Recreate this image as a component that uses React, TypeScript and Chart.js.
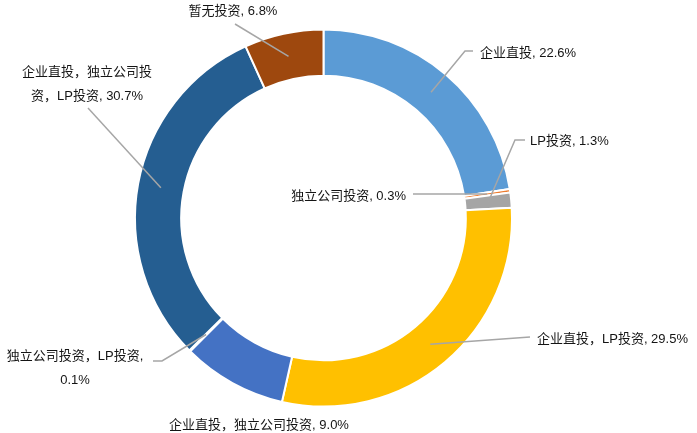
import React, { useEffect, useRef } from "react";
import { Chart, registerables } from "chart.js";

Chart.register(...registerables);

const categories = [
  "企业直投",
  "独立公司投资",
  "LP投资",
  "企业直投，LP投资",
  "企业直投，独立公司投资",
  "独立公司投资，LP投资",
  "企业直投，独立公司投资，LP投资",
  "暂无投资",
];
const values = [22.6, 0.3, 1.3, 29.5, 9.0, 0.1, 30.7, 6.8];
const colors = ["#5B9BD5", "#ED7D31", "#A5A5A5", "#FFC000", "#4472C4", "#70AD47", "#255E91", "#9E480E"];

// label layout: text lines, anchor offsets (px from center), alignment, leader path points
type LabelCfg = {
  lines: string[];
  tx: number;
  ty: number;
  align: CanvasTextAlign;
  path: [number, number][];
};
const labelLayout: LabelCfg[] = [
  { lines: ["企业直投, 22.6%"], tx: 156.5, ty: -166, align: "left", path: [[141.5, -167], [149.5, -167]] },
  { lines: ["独立公司投资, 0.3%"], tx: 82.5, ty: -23, align: "right", path: [[89.5, -24]] },
  { lines: ["LP投资, 1.3%"], tx: 206.5, ty: -78, align: "left", path: [[191.5, -78], [201.5, -78]] },
  { lines: ["企业直投，LP投资, 29.5%"], tx: 213.5, ty: 120, align: "left", path: [[206.5, 119]] },
  { lines: ["企业直投，独立公司投资, 9.0%"], tx: -64.5, ty: 206, align: "center", path: [] },
  { lines: ["独立公司投资，LP投资,", "0.1%"], tx: -248.5, ty: 137, align: "center", path: [[-161.5, 143], [-170.5, 143]] },
  { lines: ["企业直投，独立公司投", "资，LP投资, 30.7%"], tx: -236.5, ty: -147, align: "center", path: [[-235.5, -110]] },
  { lines: ["暂无投资, 6.8%"], tx: -90.5, ty: -208, align: "center", path: [[-88.5, -194]] },
];

const FONT = '13px "Liberation Sans", Arial, "Noto Sans CJK SC", sans-serif';

const labelPlugin = {
  id: "leaderLabels",
  afterDatasetsDraw(chart: any) {
    const meta = chart.getDatasetMeta(0);
    const ctx = chart.ctx as CanvasRenderingContext2D;
    ctx.save();
    meta.data.forEach((arc: any, i: number) => {
      const cfg = labelLayout[i];
      if (!cfg) return;
      const cx = arc.x;
      const cy = arc.y;
      if (cfg.path.length) {
        const start = arc.tooltipPosition();
        ctx.beginPath();
        ctx.strokeStyle = "#A6A6A6";
        ctx.lineWidth = 1.5;
        ctx.moveTo(start.x, start.y);
        cfg.path.forEach(([dx, dy]) => ctx.lineTo(cx + dx, cy + dy));
        ctx.stroke();
      }
      ctx.font = FONT;
      ctx.fillStyle = "#141414";
      ctx.textAlign = cfg.align;
      ctx.textBaseline = "middle";
      cfg.lines.forEach((ln, k) => {
        ctx.fillText(ln, cx + cfg.tx, cy + cfg.ty + 1 + k * 24);
      });
    });
    ctx.restore();
  },
};

export default function App() {
  const ref = useRef<HTMLCanvasElement>(null);
  useEffect(() => {
    if (!ref.current) return;
    const chart = new Chart(ref.current, {
      type: "doughnut",
      data: {
        labels: categories,
        datasets: [
          {
            data: values,
            backgroundColor: colors,
            borderColor: "#ffffff",
            borderWidth: 2,
          },
        ],
      },
      options: {
        responsive: false,
        animation: false,
        cutout: "75.5%",
        layout: { padding: { left: 134, right: 184, top: 28.5, bottom: 25.5 } },
        plugins: { legend: { display: false }, tooltip: { enabled: false } },
      },
      plugins: [labelPlugin],
    });
    return () => chart.destroy();
  }, []);
  return (
    <div style={{ position: "fixed", left: 0, top: 0, width: 697, height: 433, background: "#fff" }}>
      <canvas ref={ref} width={697} height={433} />
    </div>
  );
}
